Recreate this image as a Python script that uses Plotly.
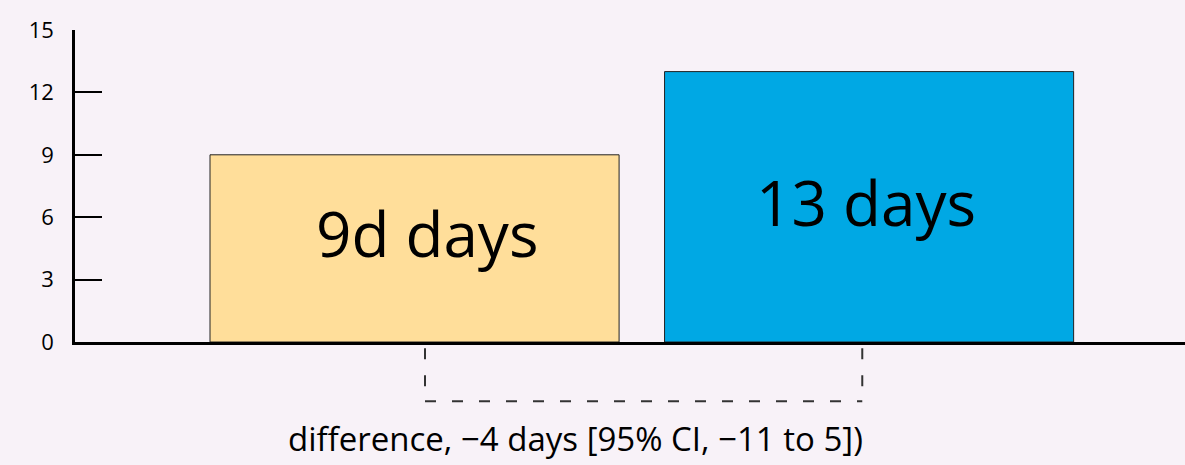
import plotly.graph_objects as go

categories = ["A", "B"]
values = [9, 13]
bar_labels = ["9d days", "13 days"]
bar_colors = ["#FFDE9A", "#00A8E4"]
y_ticks = [0, 3, 6, 9, 12, 15]
diff_label = "difference, \u22124 days [95% CI, \u221211 to 5])"

FONT = "Open Sans"
BG = "#F8F2F8"

fig = go.Figure()
fig.add_trace(go.Bar(
    x=[0, 1], y=values, width=0.9,
    marker=dict(color=bar_colors, line=dict(color="#222222", width=1)),
    hoverinfo="skip",
))

# labels inside bars
label_shifts = [(12, 15), (-3, 5)]
for i, (lab, v) in enumerate(zip(bar_labels, values)):
    fig.add_annotation(
        x=i, y=v / 2, xref="x", yref="y", text=lab, showarrow=False,
        xanchor="center", yanchor="middle",
        xshift=label_shifts[i][0], yshift=label_shifts[i][1],
        font=dict(family=FONT, size=62, color="#000000"),
    )

# bracket below the bars (paper y coords for vertical positions)
y_top = -0.02
y_bot = -0.19
x_left, x_right = 0.023, 0.985
dash = dict(color="#333333", width=2, dash="11px,16px")
fig.add_shape(type="line", xref="x", yref="paper", x0=x_left, x1=x_left, y0=y_top, y1=y_bot, line=dash)
fig.add_shape(type="line", xref="x", yref="paper", x0=x_right, x1=x_right, y0=y_top, y1=y_bot, line=dash)
fig.add_shape(type="line", xref="x", yref="paper", x0=x_left, x1=x_right, y0=y_bot, y1=y_bot, line=dash)

fig.add_annotation(
    x=0.353, xref="x", y=-0.31, yref="paper",
    text=diff_label, showarrow=False, yanchor="middle", xanchor="center",
    font=dict(family=FONT, size=33, color="#000000"),
)

fig.update_layout(
    width=1185, height=465,
    margin=dict(l=75, r=0, t=30, b=123),
    paper_bgcolor=BG, plot_bgcolor=BG,
    showlegend=False,
    xaxis=dict(range=[-0.747, 1.695], showticklabels=False, ticks="",
               showgrid=False, zeroline=False, showline=True,
               linecolor="#000000", linewidth=3, fixedrange=True),
    yaxis=dict(range=[0, 15], tickvals=y_ticks, ticks="inside", ticklen=27,
               tickwidth=2, tickcolor="#000000", showgrid=False, zeroline=False,
               showline=True, linecolor="#000000", linewidth=2.5,
               ticklabelstandoff=14,
               tickfont=dict(family=FONT, size=22, color="#000000"),
               fixedrange=True),
)

fig.write_html("out.html", config={"displayModeBar": False},
               post_script="document.body.style.margin='0';document.body.style.background='" + BG + "';")
